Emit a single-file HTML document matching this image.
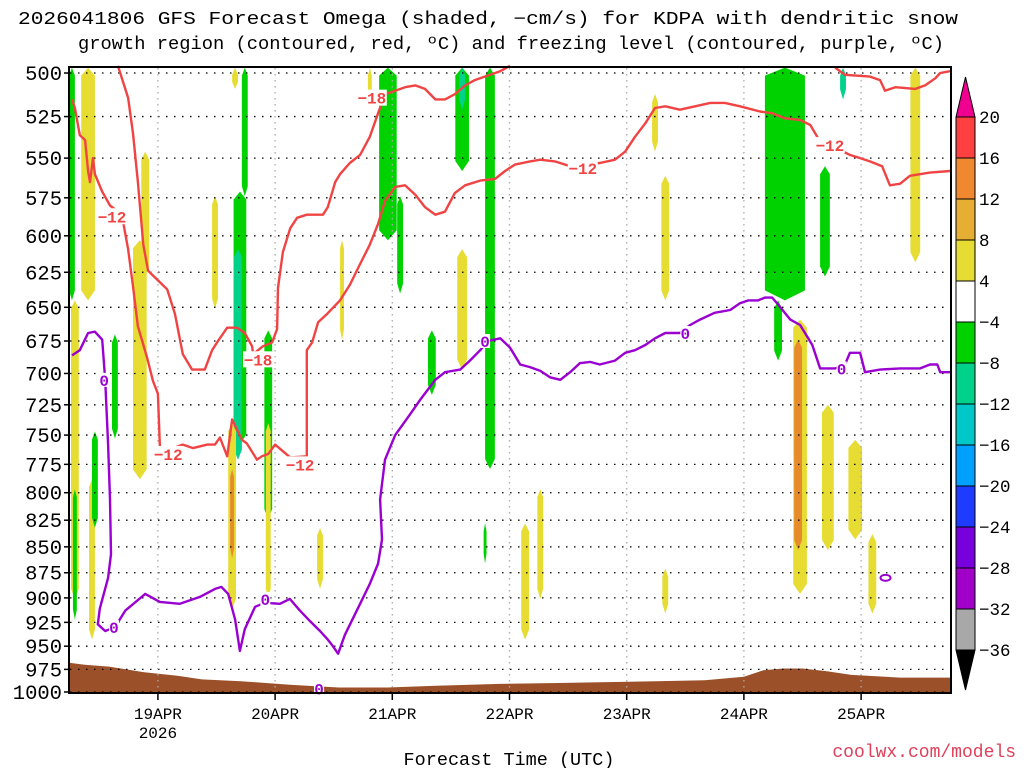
<!DOCTYPE html>
<html><head><meta charset="utf-8"><style>
html,body{margin:0;padding:0;background:#fff;}
svg{display:block;font-family:"Liberation Mono","DejaVu Sans Mono",monospace;}
</style></head><body>
<svg id="c" width="1024" height="768" viewBox="0 0 1024 768" xmlns="http://www.w3.org/2000/svg">
<text x="488" y="24" font-size="18" textLength="940" lengthAdjust="spacingAndGlyphs" text-anchor="middle">2026041806 GFS Forecast Omega (shaded, −cm/s) for KDPA with dendritic snow</text>
<text x="511" y="49" font-size="18" textLength="866" lengthAdjust="spacingAndGlyphs" text-anchor="middle">growth region (contoured, red, ºC) and freezing level (contoured, purple, ºC)</text>
<g id="shade"></g>
<g id="terrain"></g>
<g id="grid"></g>
<g id="lines"></g>
<g id="axes"></g>
<g id="cbar"></g>
<text x="509" y="765" font-size="18.5" text-anchor="middle">Forecast Time (UTC)</text>
<text x="1016" y="757" font-size="18" text-anchor="end" fill="#e0405a">coolwx.com/models</text>
</svg>
<script>
const pressureTicks=[500,525,550,575,600,625,650,675,700,725,750,775,800,825,850,875,900,925,950,975,1000];
const dayTicks=[18,42,66,90,114,138,162];
const dayLabels=["19APR","20APR","21APR","22APR","23APR","24APR","25APR"];
const cbarLabels=["20","16","12","8","4","−4","−8","−12","−16","−20","−24","−28","−32","−36"];
const cbarColors=["#ff4040","#f08830","#e6ae32","#e6dc32","#ffffff","#00d200","#00d28c","#00c8c8","#00a0ff","#1e3cff","#7800dc","#a000c8","#a8a8a8"];
const freezeLine=[[0.4,686],[2,682],[3.7,669],[5.1,668],[6.6,674],[7.2,705],[7.8,758],[8.2,806],[8.4,857],[7.8,880],[6.1,911],[5.7,927],[7.2,934],[9.2,930],[11.3,913],[15.4,896],[18.4,904],[22.5,906],[26.6,899],[29.7,891],[31,889],[32.4,896],[33.8,922],[34.8,955],[35.8,932],[37.9,909],[39.9,905],[43,906],[45,901],[47.1,913],[49.2,924],[51.2,934],[52.8,943],[53.7,949],[54.9,958],[56.3,938],[59.4,906],[61.4,886],[63.1,866],[63.9,843],[63.5,806],[64.5,771],[66.6,750],[69.6,733],[71.7,721],[74.8,705],[76.8,699],[79.9,697],[81.9,690],[84,682],[85.6,675],[88.1,673],[90.1,680],[92.2,693],[94.2,695],[96.3,698],[98.3,703],[100.4,705],[102.4,699],[104.4,692],[106.5,691],[108.5,693],[111.6,690],[113.7,684],[115.7,682],[117.8,678],[119.8,673],[121.9,669],[124.9,669],[127,663],[129,659],[132,654],[135.2,652],[137.2,647],[138.9,645],[140.9,645],[142.3,643],[143.8,643],[145,648],[147.5,659],[149.5,663],[152,678],[153.6,696],[156.7,696],[158.7,693],[159.7,684],[161.8,684],[162.8,699],[165.9,697],[170,696],[174.1,696],[176.1,693],[177.6,693],[178.2,699],[180.2,699]];
const redA=[[0.4,515],[1,520],[2,536],[3.1,539],[3.7,558],[4.1,565],[4.7,550],[5.1,560],[6.6,571],[8.2,580],[10.6,586],[11.9,609],[12.9,635],[13.9,664],[15.8,688],[17,706],[18,716],[18.4,760],[21.1,761],[23.1,758],[25.2,761],[28.1,758],[29.7,758],[30.7,752],[32.2,768],[33.2,737],[35.2,754],[36.2,757],[38.3,771],[39.3,768],[40.6,766],[42,758],[45.1,769],[48.5,768],[48.5,682],[49.6,676],[50.8,661],[52.6,655],[55.3,645],[57.3,634],[59,622],[61.4,606],[63.1,592],[64.5,577],[66.6,568],[68.6,567],[70.7,573],[72.7,581],[74.8,586],[76.8,584],[78.8,572],[80.9,567],[84,564],[87,563],[89.1,558],[91.1,554],[94.2,552],[96.3,551],[99.3,552],[102.4,555],[108.5,553],[111.6,551],[113.7,546],[115.7,537],[117.8,529],[119.8,520],[121.9,519],[124.9,521],[128,519],[131.1,517],[134.1,517],[137.2,519],[141.3,522],[143.8,523],[146.4,526],[149.5,527],[151.6,530],[153.6,540],[157.7,545],[159.7,548],[161.8,550],[163.8,552],[166.3,555],[167.9,567],[170,566],[172,561],[176.1,559],[180.2,558]];
const redB=[[9.8,496],[11.9,514],[12.9,535],[13.9,565],[15,606],[16,624],[18.4,632],[19.9,637],[21.5,655],[23.1,685],[25,697],[27.6,697],[29.1,682],[30.3,675],[32.2,665],[34.2,665],[35.8,669],[37.3,679],[37.5,685],[39.5,679],[41.4,676],[42.4,666],[42.6,636],[43.6,611],[45.1,595],[46.5,588],[48.5,586],[51.8,586],[52.8,581],[54.3,565],[55.3,560],[57.3,553],[59.4,548],[61.4,537],[63.1,523],[64.5,512],[66.6,510],[68.6,508],[70.7,507],[72.7,509],[74.8,515],[76.8,515],[78.8,512],[80.9,507],[82.9,504],[86,501],[88.1,499],[90.1,496]];
const redC=[[156.7,497],[158.7,501],[163.8,502],[165.9,504],[166.9,510],[169,508],[173.1,509],[175.1,507],[177.2,503],[178.2,500],[180.2,499]];
const redLabels=[[8.6,587,"−12"],[20.1,766,"−12"],[38.5,689,"−18"],[47.1,775,"−12"],[61.8,514,"−18"],[105,556,"−12"],[155.6,542,"−12"]];
const freezeLabels=[[7,705],[9,930],[40,901],[85,675],[126,669],[158,696],[51,996]];
const terrainP=[[0,968],[3,970],[8,972],[15,978],[22,982],[27,986],[35,988],[45,992],[55,995],[65,995],[75,993],[88,991],[100,990],[110,989],[120,988],[130,987],[138,983],[142,976],[146,974],[150,974],[155,977],[160,981],[170,984],[180.5,984]];
const blobs=[
[0.4,0.6,497,645,"g"],[3.7,1.4,497,645,"y"],[1,0.8,645,901,"y"],[1,0.4,797,922,"g"],[4.5,0.6,788,943,"y"],
[5.1,0.6,747,832,"g"],[9.2,0.6,670,753,"g"],[14.3,1.4,603,788,"y"],[15.4,0.8,546,628,"y"],[29.7,0.6,574,651,"y"],
[33.8,0.6,497,509,"y"],[34.8,1.3,571,758,"g"],[34.4,0.8,609,771,"t"],[35.8,0.6,497,574,"g"],[33.2,0.8,740,911,"y"],[33.2,0.4,779,861,"o"],
[40.6,0.8,667,824,"g"],[40.6,0.5,740,901,"y"],[51.2,0.6,832,891,"y"],[55.7,0.4,603,674,"y"],[61.4,0.4,497,515,"y"],
[65.1,1.8,497,603,"g"],[67.6,0.6,574,640,"g"],[74.1,0.8,667,717,"g"],[80.3,1.4,497,558,"g"],[80.3,0.6,497,521,"t"],
[80.3,1,609,697,"y"],[86,1,497,779,"g"],[85,0.3,828,866,"g"],[93.2,0.8,828,943,"y"],[96.3,0.6,797,901,"y"],
[119.8,0.6,512,546,"y"],[121.9,0.8,561,645,"y"],[121.9,0.6,871,916,"y"],[146.4,4.1,497,645,"g"],[145,0.8,645,690,"g"],
[154.6,1,555,628,"g"],[158.3,0.6,497,515,"t"],[149.5,1.4,659,896,"y"],[149.1,0.8,674,853,"o"],[155.2,1.2,725,853,"y"],
[160.8,1.4,754,843,"y"],[164.3,0.8,838,916,"y"],[173.1,1,497,618,"y"]];
const colorKey={y:"#e6dc32",o:"#e68a2c",g:"#00d200",t:"#00d28c"};

const X0=70,PX_H=117.2/24;
function xs(h){return X0+h*PX_H;}
function ys(p){return 73+893*Math.log(p/500);}
const NS="http://www.w3.org/2000/svg";
function mk(tag,parent,attrs){const e=document.createElementNS(NS,tag);for(const k in attrs)e.setAttribute(k,attrs[k]);parent.appendChild(e);return e;}
const shade=document.getElementById('shade'),grid=document.getElementById('grid'),lines=document.getElementById('lines'),axes=document.getElementById('axes'),cbar=document.getElementById('cbar'),terr=document.getElementById('terrain');
const clipTop=ys(496);
blobs.forEach(b=>{const x1=xs(b[0]-b[1]),x2=xs(b[0]+b[1]);const y1=Math.max(clipTop,ys(b[2])),y2=ys(b[3]);const w=x2-x1;
 const topOpen=y1<=clipTop+1;const h=y2-y1;const tp=topOpen?0:Math.min(8,h/3);const bt=Math.min(10,h/3);
 const d=`M${x1+w/2},${y1} L${x2},${y1+tp} L${x2},${y2-bt} L${x1+w/2},${y2} L${x1},${y2-bt} L${x1},${y1+tp} Z`;
 const pth=topOpen?`M${x1},${y1} L${x2},${y1} L${x2},${y2-bt} L${x1+w/2},${y2} L${x1},${y2-bt} Z`:d;
 const r=mk('path',shade,{d:pth,fill:colorKey[b[4]]});
 
 });
let td="M"+xs(0)+","+693;terrainP.forEach(t=>{td+=" L"+xs(t[0]).toFixed(1)+","+ys(t[1]).toFixed(1);});td+=" L"+xs(180.5)+",693 Z";
const tp=mk('path',terr,{d:td,fill:"#9b5029"});


pressureTicks.forEach(p=>{const y=ys(p);
 const l=mk('line',grid,{x1:70,x2:950,y1:y,y2:y,stroke:"#000","stroke-width":1.3,"stroke-dasharray":"1.5,6.5"});
 
 
 mk('line',axes,{x1:64,x2:70,y1:y,y2:y,stroke:"#000","stroke-width":1.5});
 const lb=mk('text',axes,{x:62,y:y+7,"font-size":20.5,"text-anchor":"end"});lb.textContent=p;
 
 });
dayTicks.forEach((h,i)=>{const x=xs(h);
 const l=mk('line',grid,{x1:x,x2:x,y1:68,y2:692,stroke:"#aaa","stroke-width":1.3,"stroke-dasharray":"1.5,4.5"});
 
 
 mk('line',axes,{x1:x,x2:x,y1:693,y2:700,stroke:"#000","stroke-width":1.5});
 const lb=mk('text',axes,{x:x,y:719,"font-size":16,"text-anchor":"middle"});lb.textContent=dayLabels[i];
 
 });
const yr=mk('text',axes,{x:xs(18),y:738,"font-size":16,"text-anchor":"middle"});yr.textContent="2026";


function poly(arr,color,name){const d=arr.map((q,i)=>(i?"L":"M")+xs(q[0]).toFixed(1)+","+Math.max(clipTop,ys(q[1])).toFixed(1)).join(" ");
 const p=mk('path',lines,{d:d,fill:"none",stroke:color,"stroke-width":2.4,"stroke-linejoin":"round"});
 
 }
poly(redA,"#f04444","dgz-contour-a");poly(redB,"#f04444","dgz-contour-b");poly(redC,"#f04444","dgz-contour-c");
poly(freezeLine,"#9a00d0","freezing-level-line");
const fo=mk('ellipse',lines,{cx:xs(167),cy:ys(880),rx:5,ry:3,fill:"none",stroke:"#9a00d0","stroke-width":2});


redLabels.forEach(l=>{const x=xs(l[0]),y=ys(l[1]);
 mk('rect',lines,{x:x-15,y:y-8,width:30,height:16,fill:"#fff"});
 const t=mk('text',lines,{x:x,y:y+6,"font-size":16,"font-weight":"bold","text-anchor":"middle",fill:"#f04444"});t.textContent=l[2];
 
 });
freezeLabels.forEach(l=>{const x=xs(l[0]),y=ys(l[1]);
 mk('rect',lines,{x:x-5,y:y-7,width:10,height:14,fill:"#fff"});
 const t=mk('text',lines,{x:x,y:y+6,"font-size":16,"font-weight":"bold","text-anchor":"middle",fill:"#9a00d0"});t.textContent="0";
 
 });
const fr=mk('rect',axes,{x:69,y:67,width:882,height:626,fill:"none",stroke:"#000","stroke-width":2});


const cbT=117,cbS=41,cx1=956,cw=19;
mk('path',cbar,{d:`M${cx1},${cbT} L${cx1+cw/2},${cbT-40} L${cx1+cw},${cbT} Z`,fill:"#f00090",stroke:"#000","stroke-width":1});
cbarColors.forEach((c,i)=>{const r=mk('rect',cbar,{x:cx1,y:cbT+i*cbS,width:cw,height:cbS,fill:c,stroke:"#000","stroke-width":1});
 
 });
const cbB=cbT+cbarColors.length*cbS;
mk('path',cbar,{d:`M${cx1},${cbB} L${cx1+cw/2},${cbB+40} L${cx1+cw},${cbB} Z`,fill:"#000",stroke:"#000","stroke-width":1});
cbarLabels.forEach((s,i)=>{const t=mk('text',cbar,{x:979,y:cbT+i*cbS+6,"font-size":17.5});t.textContent=s;
 
 });
</script>
</body></html>
